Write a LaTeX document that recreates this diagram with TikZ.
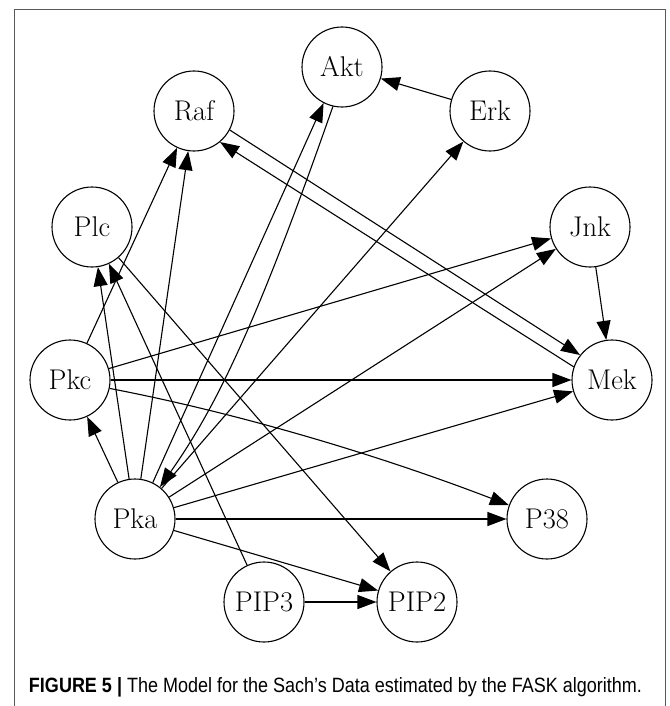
\documentclass[tikz,border=0pt]{standalone}
\usepackage{fontspec}
\newfontfamily\capfont{Liberation Sans}
\usetikzlibrary{arrows.meta}
\tikzset{
  vnode/.style={circle, draw, line width=1.1pt, minimum size=80pt, inner sep=0pt,
    font=\fontsize{28.5}{30}\selectfont},
  edge/.style={line width=1.1pt, -{Triangle[length=19pt,width=14pt]}},
  frame/.style={line width=1.5pt, black!65},
}
\begin{document}
\begin{tikzpicture}[x=1pt,y=-1pt]
\useasboundingbox (0,0) rectangle (669,706);
\draw[frame] (14.5,706) -- (14.5,9.5) -- (665.5,9.5) -- (665.5,706);

\node[vnode] (raf)  at (194,111) {Raf};
\node[vnode] (akt)  at (342,67)  {Akt};
\node[vnode] (erk)  at (490,111) {Erk};
\node[vnode] (plc)  at (92,227)  {Plc};
\node[vnode] (jnk)  at (590,227) {Jnk};
\node[vnode] (pkc)  at (70,380)  {Pkc};
\node[vnode] (mek)  at (612,380) {Mek};
\node[vnode] (pka)  at (135,519) {Pka};
\node[vnode] (p38)  at (547,519) {P38};
\node[vnode] (pip3) at (264,602) {PIP3};
\node[vnode] (pip2) at (417,602) {PIP2};

\draw[edge] (erk) -- (akt);
\draw[edge] (pkc) -- (raf);
\draw[edge] (pka) -- (raf);
\draw[edge] (raf.-28) -- (mek.142);
\draw[edge] (mek.161) -- (raf.-50);
\draw[edge] (pka.64) -- (akt.-117);
\draw[edge] (akt.-103) .. controls +(-77,220) and +(56,-80) .. (pka.52);
\draw[edge] (pka) -- (erk);
\draw[edge] (pka) -- (plc);
\draw[edge] (pip3) -- (plc);
\draw[edge] (plc) -- (pip2);
\draw[edge] (pkc) -- (jnk);
\draw[edge] (pka) -- (jnk);
\draw[edge] (jnk) -- (mek);
\draw[edge] (pkc) -- (mek);
\draw[edge] (pka) -- (mek);
\draw[edge] (pka) -- (pkc);
\draw[edge] (pkc.-12) .. controls +(130,25) and +(-130,-50) .. (p38.160);
\draw[edge] (pka) -- (p38);
\draw[edge] (pka) -- (pip2);
\draw[edge] (pip3) -- (pip2);

\node (cap) at (335.5,687) {\resizebox{613pt}{!}{\scalebox{1}[1.15]{\capfont\fontsize{17.5}{20}\selectfont\textbf{FIGURE 5 |} The Model for the Sach’s Data estimated by the FASK algorithm.}}};
\end{tikzpicture}
\end{document}
